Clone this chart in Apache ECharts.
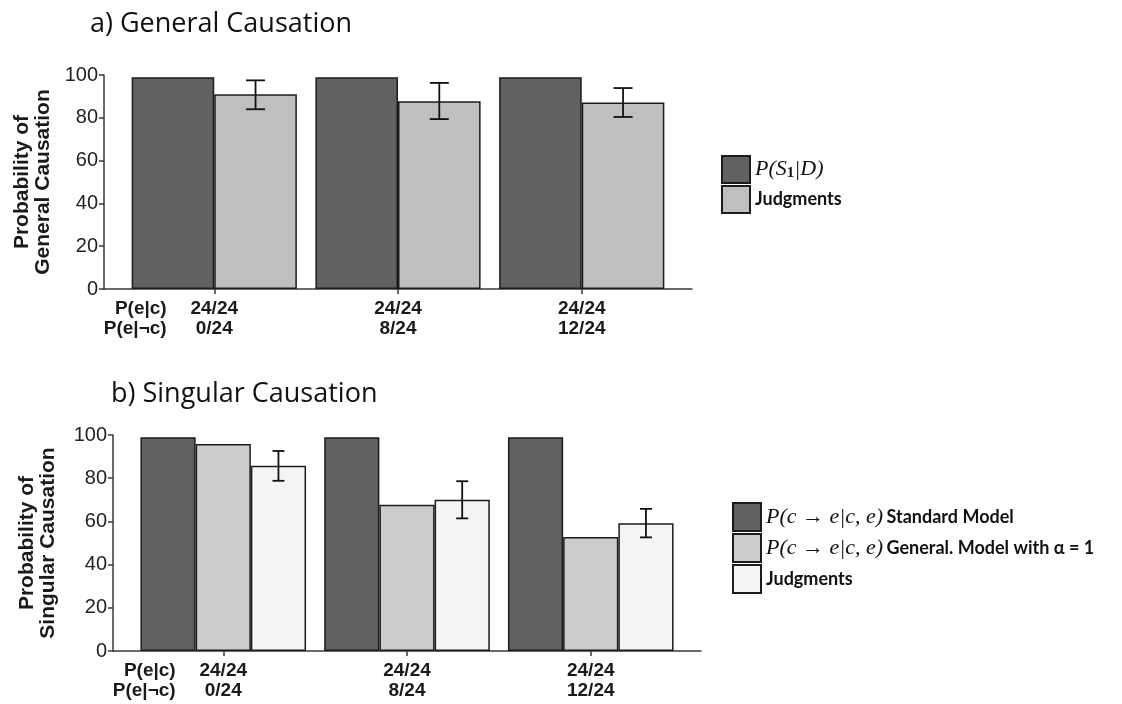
<!DOCTYPE html>
<html>
<head>
<meta charset="utf-8">
<script src="https://cdn.jsdelivr.net/npm/echarts@6/dist/echarts.min.js"></script>
<style>html,body{margin:0;padding:0;background:#fff;}#chart{width:1122px;height:704px;}</style>
</head>
<body>
<div id="chart"></div>
<script>
// ---- data ----
const pEC = ['24/24', '24/24', '24/24'];
const pENC = ['0/24', '8/24', '12/24'];
const rowLabels = ['P(e|c)', 'P(e|¬c)'];
const yTicks = [0, 20, 40, 60, 80, 100];

// a) General causation
const genModel = [99, 99, 99];
const genJudg = [91, 87.7, 87.2];
const genErrLow = [84, 79.4, 80.4];
const genErrHigh = [97.5, 96.3, 93.9];

// b) Singular causation
const sinStandard = [99, 99, 99];
const sinGeneral = [95.8, 67.7, 52.8];
const sinJudg = [85.8, 70, 59.2];
const sinErrLow = [78.8, 61.4, 52.6];
const sinErrHigh = [92.6, 78.6, 65.8];

// ---- styling ----
const BORDER = '#1c1c1c';
const AXIS = '#3a3a3a';
const SANS = 'Liberation Sans';
const TOPBW = 82.6, BOTBW = 55.2;
const ROWPOS = -0.43;
const LBL = 19;

const xs = pEC.map((_, i) => i);
const pairs = arr => arr.map((v, i) => [xs[i], v]);
const errData = (lo, hi) => lo.map((v, i) => [xs[i], v, hi[i]]);

function xAxisCfg(gridIndex) {
  return {
    type: 'value', gridIndex: gridIndex, min: -0.6, max: 2.6,
    splitLine: {show: false},
    axisLine: {show: true, onZero: false, lineStyle: {color: AXIS, width: 1.5}},
    axisTick: {show: true, customValues: xs, length: 5, lineStyle: {color: AXIS, width: 1.5}},
    axisLabel: {
      customValues: [ROWPOS].concat(xs),
      margin: 10,
      fontFamily: SANS, fontWeight: 'bold', fontSize: LBL, lineHeight: 20, color: '#1a1a1a',
      formatter: function (v) {
        if (v < 0) return '{r|' + rowLabels[0] + '}\n{r|' + rowLabels[1] + '}';
        const i = Math.round(v);
        return pEC[i] + '\n' + pENC[i];
      },
      rich: {r: {align: 'right', fontFamily: SANS, fontWeight: 'bold', fontSize: LBL, lineHeight: 20, color: '#1a1a1a'}}
    }
  };
}
function yAxisCfg(gridIndex, name, gap) {
  return {
    type: 'value', gridIndex: gridIndex, min: 0, max: 100, interval: 20,
    name: name, nameLocation: 'middle', nameRotate: 90, nameGap: gap,
    nameTextStyle: {fontFamily: SANS, fontWeight: 'bold', fontSize: 21, lineHeight: 21, color: '#1a1a1a'},
    splitLine: {show: false},
    axisLine: {show: true, onZero: false, lineStyle: {color: AXIS, width: 1.5}},
    axisTick: {show: true, length: 5, lineStyle: {color: AXIS, width: 1.5}},
    axisLabel: {fontFamily: SANS, fontSize: 20, color: '#222', margin: 6}
  };
}
function barSeries(name, data, axisIdx, color, bw) {
  return {
    type: 'bar', name: name, xAxisIndex: axisIdx, yAxisIndex: axisIdx,
    data: pairs(data), barWidth: bw, barGap: '0%',
    itemStyle: {color: color, borderColor: BORDER, borderWidth: 1.5},
    emphasis: {disabled: true}, animation: false
  };
}
function errSeries(lo, hi, axisIdx, bw, nBars, capHalf) {
  const offset = bw * (nBars - 1) / 2;
  return {
    type: 'custom', xAxisIndex: axisIdx, yAxisIndex: axisIdx, z: 10,
    data: errData(lo, hi), animation: false, silent: true,
    renderItem: function (params, api) {
      const pLo = api.coord([api.value(0), api.value(1)]);
      const pHi = api.coord([api.value(0), api.value(2)]);
      const cx = pLo[0] + offset;
      const st = {stroke: '#111', lineWidth: 1.8};
      return {type: 'group', children: [
        {type: 'line', shape: {x1: cx, y1: pLo[1], x2: cx, y2: pHi[1]}, style: st},
        {type: 'line', shape: {x1: cx - capHalf, y1: pLo[1], x2: cx + capHalf, y2: pLo[1]}, style: st},
        {type: 'line', shape: {x1: cx - capHalf, y1: pHi[1], x2: cx + capHalf, y2: pHi[1]}, style: st}
      ]};
    }
  };
}

const mathStyle = {fontFamily: 'Liberation Serif', fontStyle: 'italic', fontSize: 22, color: '#111'};
const legendRich = {
  m: mathStyle,
  s: {fontFamily: 'Liberation Serif', fontWeight: 'bold', fontSize: 15, color: '#111', verticalAlign: 'bottom', padding: [8, 0, 0, 0]},
  t: {fontFamily: 'Lato', fontSize: 18, fontWeight: 'bold', color: '#111'}
};
const legendText = {
  'P(S1|D)': '{m|P(S}{s|1}{m||D)}',
  'Judgments': '{t|Judgments}',
  'Standard': '{m|P(c → e|c, e)} {t|Standard Model}',
  'General': '{m|P(c → e|c, e)} {t|General. Model with α = 1}',
  'Judgments ': '{t|Judgments}'
};

const titleStyle = {fontFamily: 'Open Sans', fontSize: 27, fontWeight: 'normal', color: '#111'};
const option = {
  backgroundColor: '#fff',
  animation: false,
  title: [
    {text: 'a) General Causation', left: 90, top: 11, padding: 0, textStyle: titleStyle},
    {text: 'b) Singular Causation', left: 111, top: 381, padding: 0, textStyle: titleStyle}
  ],
  grid: [
    {left: 104, top: 75, width: 588, height: 214},
    {left: 113, top: 435, width: 588, height: 216}
  ],
  xAxis: [xAxisCfg(0), xAxisCfg(1)],
  yAxis: [yAxisCfg(0, 'Probability of\nGeneral Causation', 48), yAxisCfg(1, 'Probability of\nSingular Causation', 54)],
  legend: [
    {data: ['P(S1|D)', 'Judgments'], orient: 'vertical', left: 721, top: 155, icon: 'rect', padding: 0,
     itemWidth: 28, itemHeight: 27, itemGap: 1, selectedMode: false,
     formatter: n => legendText[n], textStyle: {rich: legendRich}},
    {data: ['Standard', 'General', 'Judgments '], orient: 'vertical', left: 732, top: 502, icon: 'rect', padding: 0,
     itemWidth: 28, itemHeight: 28, itemGap: 1, selectedMode: false,
     formatter: n => legendText[n], textStyle: {rich: legendRich}}
  ],
  series: [
    barSeries('P(S1|D)', genModel, 0, '#616161', TOPBW),
    barSeries('Judgments', genJudg, 0, '#bfbfbf', TOPBW),
    errSeries(genErrLow, genErrHigh, 0, TOPBW, 2, 9.5),
    barSeries('Standard', sinStandard, 1, '#616161', BOTBW),
    barSeries('General', sinGeneral, 1, '#cccccc', BOTBW),
    barSeries('Judgments ', sinJudg, 1, '#f5f5f5', BOTBW),
    errSeries(sinErrLow, sinErrHigh, 1, BOTBW, 3, 6)
  ]
};

const chart = echarts.init(document.getElementById('chart'), null, {renderer: 'canvas'});
chart.setOption(option);
</script>
</body>
</html>
